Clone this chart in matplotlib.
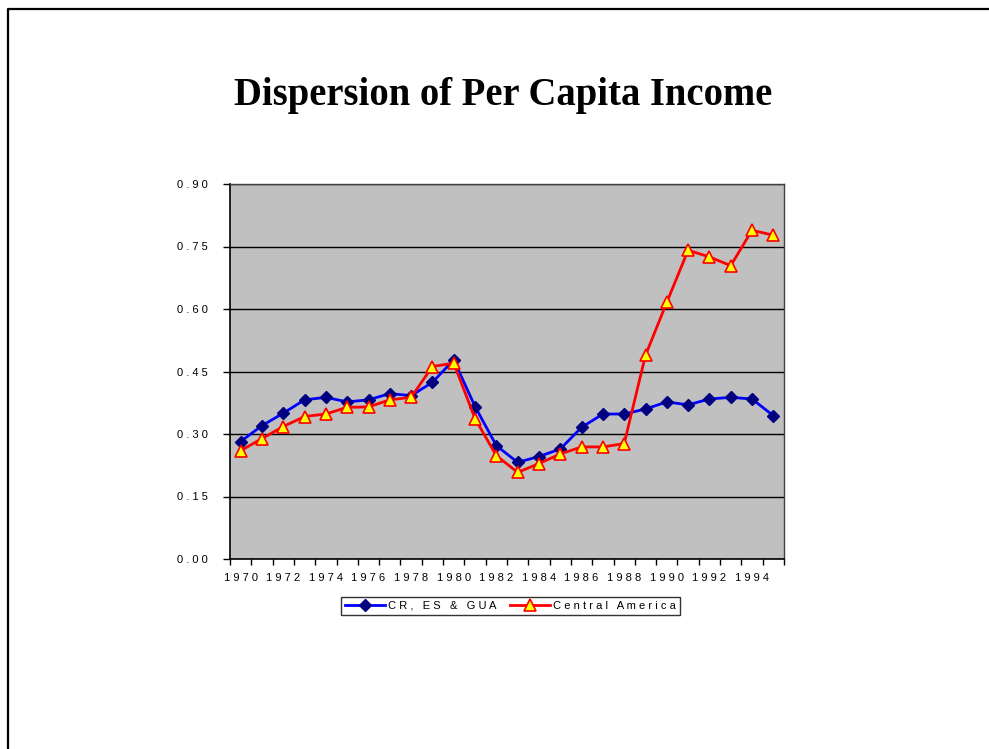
import numpy as np
import matplotlib
matplotlib.use('Agg')
import matplotlib.pyplot as plt
from matplotlib.lines import Line2D

years = list(range(1970, 1996))
cr_es_gua = [0.282, 0.320, 0.350, 0.382, 0.388, 0.377, 0.382, 0.397, 0.392, 0.424,
             0.478, 0.366, 0.272, 0.232, 0.246, 0.264, 0.316, 0.348, 0.348, 0.360,
             0.377, 0.370, 0.384, 0.388, 0.384, 0.344]
central_america = [0.260, 0.289, 0.318, 0.342, 0.348, 0.364, 0.365, 0.382, 0.388, 0.462,
                   0.470, 0.337, 0.248, 0.208, 0.229, 0.252, 0.269, 0.269, 0.277, 0.489,
                   0.616, 0.741, 0.725, 0.704, 0.789, 0.777]
y_ticks = [0.0, 0.15, 0.30, 0.45, 0.60, 0.75, 0.90]
series_names = ['CR, ES & GUA', 'Central America']


def spaced(s):
    # the original uses wide letter spacing
    return ' '.join(s)


plt.rcParams['font.family'] = ['Liberation Sans', 'DejaVu Sans']

fig = plt.figure(figsize=(9.89, 7.49), dpi=100)

# slide frame
fig.add_artist(Line2D([7.5 / 989, 7.5 / 989, 1.0], [0.0, 1 - 8.5 / 749, 1 - 8.5 / 749],
                      color='black', linewidth=1.6, transform=fig.transFigure))

fig.text(503 / 989, 1 - 95 / 749, 'Dispersion of Per Capita Income',
         ha='center', va='center', fontsize=27.8, fontweight='bold',
         family='Liberation Serif')

ax = fig.add_axes([230 / 989, 1 - 559 / 749, 554 / 989, 375 / 749])
ax.set_facecolor('#C0C0C0')

x = np.arange(len(years)) + 0.5
ax.plot(x, cr_es_gua, color='#0000FF', linewidth=2, marker='D', markersize=6.5,
        markerfacecolor='#000080', markeredgecolor='#000080', label=spaced(series_names[0]), zorder=3)
ax.plot(x, central_america, color='#FF0000', linewidth=2, marker='^', markersize=9,
        markerfacecolor='#FFFF00', markeredgecolor='#FF0000', markeredgewidth=1.2,
        label=spaced(series_names[1]), zorder=4)

ax.set_xlim(0, len(years))
ax.set_ylim(0, 0.9)

ax.set_yticks(y_ticks)
ax.set_yticklabels([spaced(f'{v:.2f}') for v in y_ticks], fontsize=8)
ax.yaxis.grid(True, color='black', linewidth=1)
ax.set_axisbelow(True)

ax.set_xticks(np.arange(len(years) + 1))
ax.set_xticklabels([])
ax.set_xticks(x[::2], minor=True)
ax.set_xticklabels([spaced(str(y)) for y in years[::2]], minor=True, fontsize=8)
ax.tick_params(axis='x', which='major', length=4, width=1, direction='out')
ax.tick_params(axis='x', which='minor', length=0, pad=10)
ax.tick_params(axis='y', length=5, width=1, pad=11)

for side in ['left', 'bottom']:
    ax.spines[side].set_color('black')
    ax.spines[side].set_linewidth(1.2)
for side in ['top', 'right']:
    ax.spines[side].set_color('#404040')
    ax.spines[side].set_linewidth(1)

leg = fig.legend(loc='center', bbox_to_anchor=(510.5 / 989, 1 - 606 / 749), ncol=2,
                 fontsize=8, frameon=True, fancybox=False, handlelength=3.6,
                 columnspacing=1.2, handletextpad=0.3, borderpad=0.35)
leg.get_frame().set_edgecolor('black')
leg.get_frame().set_linewidth(1)

fig.savefig('out.png', dpi=100)
